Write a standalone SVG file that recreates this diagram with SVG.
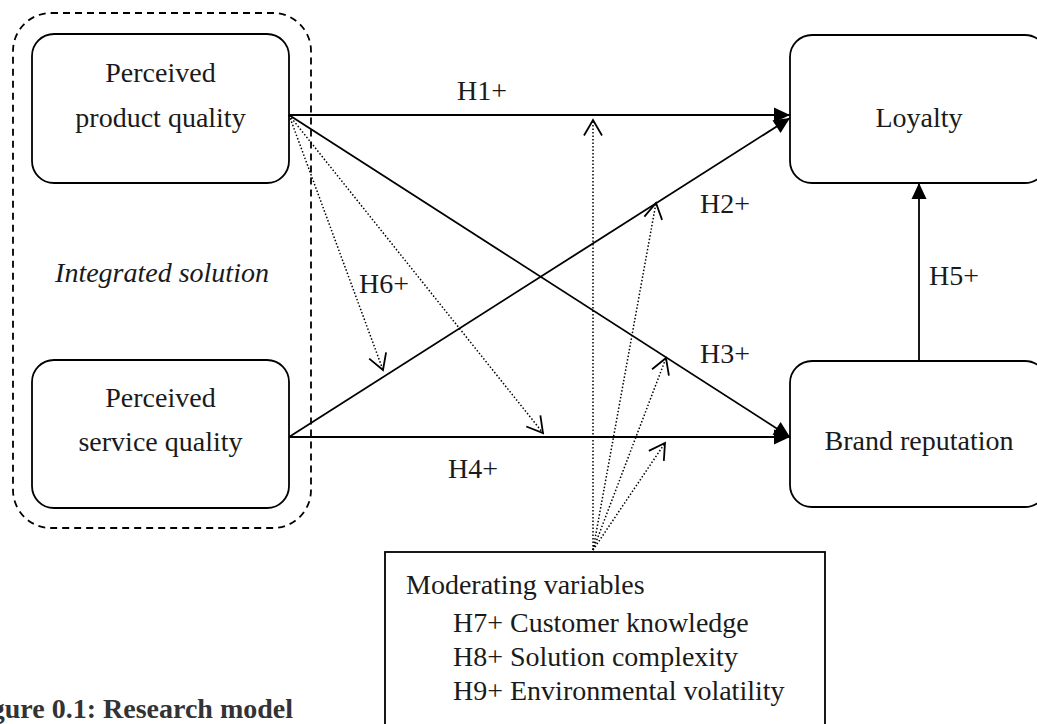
<svg xmlns="http://www.w3.org/2000/svg" width="1037" height="724" viewBox="0 0 1037 724">
<style>
text{font-family:"Liberation Serif","Times New Roman",serif;font-size:28px;fill:#1a1a1a}
.mid{text-anchor:middle}
.box{fill:#fff;stroke:#000;stroke-width:1.8}
.solid{fill:none;stroke:#000;stroke-width:1.8}
.dot{fill:none;stroke:#000;stroke-width:1.5;stroke-dasharray:1.5 2}
.dash{fill:none;stroke:#000;stroke-width:1.8;stroke-dasharray:7 5}
</style>
<defs>
<marker id="fill" markerUnits="userSpaceOnUse" viewBox="-17 -8 18 16" refX="0" refY="0" markerWidth="18" markerHeight="16" orient="auto">
<path d="M-16,-7.5 L0,0 L-16,7.5 Z" fill="#000" stroke="none"/>
</marker>
<marker id="open" markerUnits="userSpaceOnUse" viewBox="-18 -11 20 22" refX="0" refY="0" markerWidth="20" markerHeight="22" orient="auto">
<path d="M-15.5,-9 L0,0 L-15.5,9" fill="none" stroke="#000" stroke-width="1.8"/>
</marker>
</defs>

<g id="integrated-solution">
<rect class="dash" x="13" y="13" width="298" height="515" rx="38" ry="38"/>
<text class="mid" x="162" y="282" font-style="italic">Integrated solution</text>
</g>

<g id="product-quality">
<rect class="box" x="32" y="34" width="257" height="149" rx="22" ry="22"/>
<text class="mid" x="160.5" y="82">Perceived</text>
<text class="mid" x="160.5" y="127">product quality</text>
</g>

<g id="service-quality">
<rect class="box" x="32" y="360" width="257" height="148" rx="22" ry="22"/>
<text class="mid" x="160.5" y="407">Perceived</text>
<text class="mid" x="160.5" y="451">service quality</text>
</g>

<g id="loyalty">
<rect class="box" x="790" y="35" width="257" height="148" rx="22" ry="22"/>
<text class="mid" x="919" y="127">Loyalty</text>
</g>

<g id="brand-reputation">
<rect class="box" x="790" y="361" width="257" height="146" rx="22" ry="22"/>
<text class="mid" x="919" y="450">Brand reputation</text>
</g>

<g id="moderating-variables">
<rect class="box" x="385" y="552" width="440" height="190"/>
<text x="406" y="594">Moderating variables</text>
<text x="453" y="632">H7+ Customer knowledge</text>
<text x="453" y="666">H8+ Solution complexity</text>
<text x="453" y="700">H9+ Environmental volatility</text>
</g>

<g id="connectors">
<path class="solid" d="M289,115 L790,115" marker-end="url(#fill)"/>
<path class="solid" d="M289,437 L790,118" marker-end="url(#fill)"/>
<path class="solid" d="M289,115 L790,437" marker-end="url(#fill)"/>
<path class="solid" d="M289,437 L790,437" marker-end="url(#fill)"/>
<path class="solid" d="M919,361 L919,183" marker-end="url(#fill)"/>
<path class="dot" d="M289,115 L383,370" marker-end="url(#open)"/>
<path class="dot" d="M289,115 L543,433" marker-end="url(#open)"/>
<path class="dot" d="M593,550 L593,120" marker-end="url(#open)"/>
<path class="dot" d="M593,550 L656,203" marker-end="url(#open)"/>
<path class="dot" d="M593,550 L666,358" marker-end="url(#open)"/>
<path class="dot" d="M593,550 L665,443" marker-end="url(#open)"/>
</g>

<g id="labels">
<text x="457" y="100">H1+</text>
<text x="700" y="213">H2+</text>
<text x="700" y="363">H3+</text>
<text x="448" y="478">H4+</text>
<text x="929" y="285">H5+</text>
<text x="359" y="293">H6+</text>
</g>

<text x="293" y="718" text-anchor="end" font-weight="bold" style="fill:#333">Figure 0.1: Research model</text>
</svg>
